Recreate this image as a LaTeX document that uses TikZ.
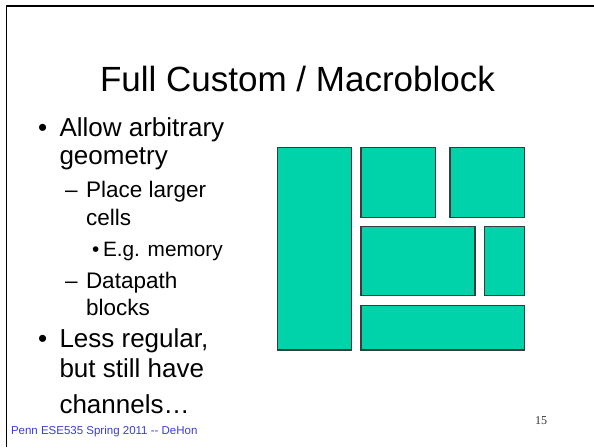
\documentclass[tikz,border=0pt]{standalone}
\usepackage{fontspec}
\setmainfont{Liberation Sans}
\newfontfamily\numfont{Liberation Serif}
\definecolor{blockfill}{RGB}{0,210,170}
\definecolor{blockline}{RGB}{55,60,60}
\definecolor{footblue}{RGB}{60,60,215}
\tikzset{
  blockbox/.style={draw=blockline, fill=blockfill, line width=1.2pt},
  txt/.style={anchor=base west, inner sep=0pt, outer sep=0pt},
  lvlone/.style={txt, font=\fontsize{26}{30}\selectfont},
  lvltwo/.style={txt, font=\fontsize{22.5}{26}\selectfont},
  lvlthree/.style={txt, font=\fontsize{20.8}{24}\selectfont},
}
\begin{document}
\begin{tikzpicture}[x=1pt, y=-1pt]
\useasboundingbox (0,0) rectangle (594,447);
\fill[white] (0,0) rectangle (594,447);
% slide frame (top and left edges)
\draw[line width=1.7pt] (6.5,447) -- (6.5,5.8) -- (594,5.8);

% title
\node[anchor=base, inner sep=0pt, font=\fontsize{35}{40}\selectfont] (title) at (297.5,91.7) {Full Custom / Macroblock};

% bullet list
\node[lvlone] (b1) at (38,136) {•};
\node[lvlone] (t1a) at (59.5,136) {Allow arbitrary};
\node[lvlone] (t1b) at (59.5,164.5) {geometry};
\node[lvltwo] (d1) at (65,197.7) {–};
\node[lvltwo] (t2a) at (86,197.7) {Place larger};
\node[lvltwo] (t2b) at (86,225.7) {cells};
\node[lvlthree] (b3) at (92,256.7) {•};
\node[lvlthree] (t3) at (103,256.7) {E.g. memory};
\node[lvltwo] (d2) at (65,288.3) {–};
\node[lvltwo] (t4a) at (86,288.3) {Datapath};
\node[lvltwo] (t4b) at (86,315) {blocks};
\node[lvlone] (b2) at (38,347.3) {•};
\node[lvlone] (t5a) at (59.5,347.3) {Less regular,};
\node[lvlone] (t5b) at (59.5,377.3) {but still have};
\node[lvlone] (t5c) at (59.5,413.5) {channels…};

% footer and page number
\node[txt, font=\fontsize{11.5}{13}\selectfont, text=footblue] (foot) at (11,434.3) {Penn ESE535 Spring 2011 {-}{-} DeHon};
\node[txt, font=\numfont\fontsize{12}{14}\selectfont, text=black!80] (page) at (535,424) {15};

% macroblock floorplan
\draw[blockbox] (277.3,147.7) rectangle (351.7,350);
\draw[blockbox] (361,147.7) rectangle (435.7,217.3);
\draw[blockbox] (450,147.7) rectangle (524.3,217.3);
\draw[blockbox] (361,226.7) rectangle (475,295.7);
\draw[blockbox] (484.7,226.7) rectangle (524.3,295.7);
\draw[blockbox] (361,305.3) rectangle (524.3,350);
\end{tikzpicture}
\end{document}
